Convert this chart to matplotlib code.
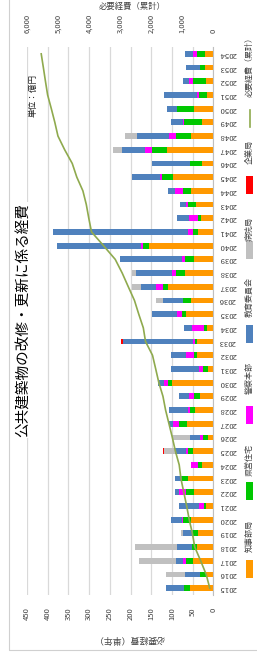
import matplotlib
matplotlib.use("Agg")
import matplotlib.pyplot as plt
from matplotlib.patches import Rectangle
from matplotlib.lines import Line2D
import numpy as np

plt.rcParams['font.family'] = ['Noto Sans CJK JP', 'DejaVu Sans']

# ---------------- data ----------------
years = [str(y) for y in range(2015, 2055)]
series_names = ["知事部局", "県営住宅", "警察本部", "教育委員会", "病院局", "企業局"]
chiji   = [57, 17, 49, 40, 36, 55, 17, 47, 62, 27, 50, 13, 64, 44, 31, 99, 14, 40, 39, 15,
           66, 55, 109, 69, 47, 156, 36, 30, 41, 55, 97, 27, 112, 55, 28, 47, 15, 18, 19, 20]
kenei   = [14, 14, 17, 12, 13, 17, 6, 18, 13, 10, 10, 12, 19, 12, 15, 11, 10, 7, 6, 8,
           9, 18, 13, 22, 22, 13, 12, 8, 19, 17, 26, 30, 37, 35, 43, 41, 20, 31, 14, 20]
keisatsu = [0, 0, 8, 0, 0, 3, 11, 18, 0, 18, 5, 7, 14, 5, 12, 9, 10, 18, 5, 28,
            12, 0, 17, 8, 6, 5, 14, 20, 5, 21, 6, 0, 17, 18, 2, 0, 5, 9, 0, 10]
kyoiku  = [43, 38, 17, 35, 25, 26, 49, 10, 17, 0, 27, 25, 11, 47, 26, 14, 67, 38, 169, 20,
           60, 49, 36, 87, 150, 203, 324, 30, 15, 17, 67, 92, 55, 76, 28, 24, 80, 14, 32, 19]
byoin   = [0, 46, 88, 101, 3, 0, 0, 0, 0, 0, 26, 42, 0, 0, 0, 0, 0, 0, 0, 0,
           0, 16, 22, 10, 0, 0, 0, 0, 0, 0, 0, 0, 21, 29, 0, 0, 0, 0, 0, 0]
kigyo   = [0, 0, 0, 0, 0, 0, 0, 0, 0, 0, 4, 0, 0, 0, 0, 0, 0, 0, 3, 0,
           0, 0, 0, 0, 0, 0, 0, 0, 0, 0, 0, 0, 0, 0, 0, 0, 0, 0, 2, 0]
cumulative = [114, 229, 408, 597, 674, 775, 858, 951, 1043, 1098, 1221, 1320, 1428, 1537,
              1621, 1754, 1855, 1958, 2183, 2254, 2401, 2539, 2738, 2934, 3159, 3536,
              3922, 4010, 4090, 4200, 4396, 4543, 4787, 5003, 5104, 5217, 5336, 5406,
              5473, 5542]
line_name = "必要経費（累計）"
left_ticks = list(range(0, 451, 50))
right_ticks = list(range(0, 6001, 1000))

colors = ["#FF9900", "#00C800", "#FF00FF", "#4F81BD", "#C0C0C0", "#FF0000"]
line_color = "#8FAA4E"

W, H = 257, 656
fig = plt.figure(figsize=(W / 100, H / 100), dpi=100)

def fx(px):
    return px / W

def fy(py):
    return 1 - py / H

ax_l, ax_r, ax_t, ax_b = 27, 213.3, 47, 595
ax = fig.add_axes([fx(ax_l), fy(ax_b), (ax_r - ax_l) / W, (ax_b - ax_t) / H])

ypos = np.arange(len(years))
base = np.zeros(len(years))
for vals, col in zip([chiji, kenei, keisatsu, kyoiku, byoin, kigyo], colors):
    v = np.array(vals, dtype=float)
    ax.barh(ypos, v, left=base, height=0.42, color=col, linewidth=0, zorder=2)
    base += v

ax.set_xlim(450, 0)
ax.set_ylim(-0.5, len(years) - 0.5)
ax.set_xticks(left_ticks)
ax.set_xticklabels([str(t) for t in left_ticks], rotation=90, fontsize=5.5, color="#404040")
ax.tick_params(axis="x", length=0, pad=9)
ax.yaxis.tick_right()
ax.set_yticks(ypos)
ax.set_yticklabels(years, rotation=180, fontsize=5.6, color="#404040", va="center")
ax.tick_params(axis="y", length=0, pad=4)
ax.xaxis.grid(True, color="#D9D9D9", linewidth=0.9)
ax.set_axisbelow(True)
for s in ["top", "left", "bottom"]:
    ax.spines[s].set_visible(False)
ax.spines["right"].set_color("#BFBFBF")
ax.spines["right"].set_linewidth(0.8)

ax2 = ax.twiny()
ax2.plot(cumulative, ypos, color=line_color, linewidth=1.2, zorder=3)
ax2.set_xlim(6000, 0)
ax2.set_xticks(right_ticks)
ax2.set_xticklabels([f"{t:,}" for t in right_ticks], rotation=90, fontsize=5.5, color="#404040")
ax2.tick_params(axis="x", length=0, pad=10)
for s in ax2.spines.values():
    s.set_visible(False)

# titles
fig.text(fx(24), fy(320), "公共建築物の改修・更新に係る経費", rotation=90, fontsize=10.5,
         ha="center", va="center", color="#000000",
         bbox=dict(facecolor="white", edgecolor="none", pad=1))
fig.text(fx(33), fy(95), "単位：億円", rotation=90, fontsize=6.2, ha="center", va="center", color="#202020")
fig.text(fx(129), fy(639), "必要経費（単年）", rotation=180, fontsize=6.4, ha="center", va="center", color="#404040")
fig.text(fx(132), fy(6), "必要経費（累計）", rotation=0, fontsize=6.0, ha="center", va="center", color="#404040")

# legend (rotated, drawn manually)
leg_x = 249.5
marker_centers = [569, 491, 415, 334, 250, 185]
text_centers = [536, 460, 378, 297, 229, 152]
for name, col, mc, tc in zip(series_names, colors, marker_centers, text_centers):
    fig.patches.append(Rectangle((fx(leg_x - 3.5), fy(mc + 9)), 7 / W, 18 / H,
                                 transform=fig.transFigure, facecolor=col, edgecolor="none"))
    fig.text(fx(leg_x), fy(tc), name, rotation=90, fontsize=5.8, ha="center", va="center", color="#404040")
fig.lines.append(Line2D([fx(leg_x), fx(leg_x)], [fy(127), fy(110)], transform=fig.transFigure,
                        color=line_color, linewidth=1.2))
fig.text(fx(leg_x), fy(65), line_name, rotation=90, fontsize=5.8, ha="center", va="center", color="#404040")

# chart border
fig.patches.append(Rectangle((fx(9), fy(650)), 1.0, 1.0, transform=fig.transFigure,
                             facecolor="none", edgecolor="#D0D0D0", linewidth=0.8))

fig.savefig("out.png", dpi=100)
